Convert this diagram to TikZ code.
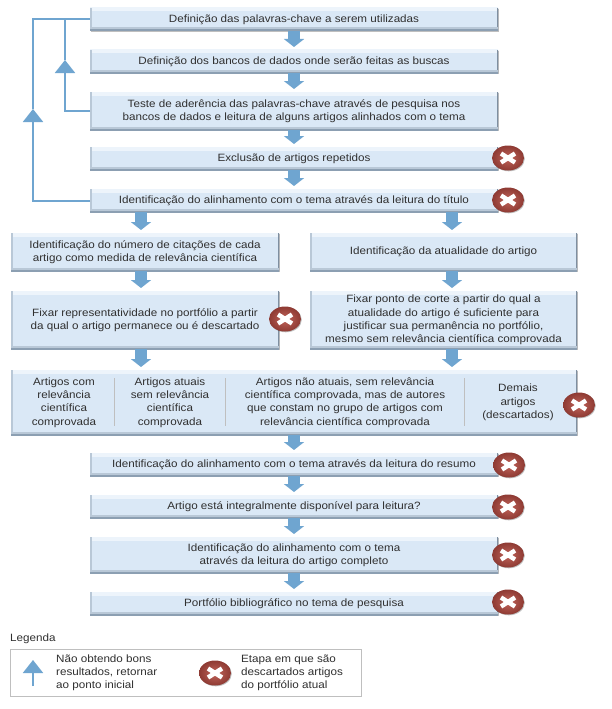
\documentclass[tikz,border=0pt]{standalone}
\usepackage{fontspec}
\setmainfont[FakeStretch=1.1]{Liberation Sans}
\usetikzlibrary{arrows.meta,shapes.geometric,shadows,calc}
\definecolor{boxfill}{HTML}{DAE8F6}
\definecolor{boxlight}{HTML}{EDF4FB}
\definecolor{boxmid}{HTML}{B9C8D7}
\definecolor{boxdark}{HTML}{8C9FB2}
\definecolor{boxdarkr}{HTML}{7E8FA1}
\definecolor{flow}{HTML}{6FA5D0}
\definecolor{txt}{HTML}{303030}
\definecolor{xin}{HTML}{C0645A}
\definecolor{xout}{HTML}{8E3A33}
\tikzset{
  x=1pt,y=-1pt,
  boxnode/.style={rectangle,inner sep=0pt,outer sep=0pt,fill=boxfill,text=txt,align=center,
    font=\fontsize{10.6}{13.3}\selectfont,
    drop shadow={shadow xshift=1pt,shadow yshift=-1pt,opacity=.25,fill=black},
    path picture={
      \draw[boxlight,line width=7pt] (path picture bounding box.north west) -- (path picture bounding box.north east);
      \draw[boxmid,line width=4pt] (path picture bounding box.north west) -- (path picture bounding box.south west);
      \draw[boxdarkr,line width=3pt] (path picture bounding box.north east) -- (path picture bounding box.south east);
      \draw[boxmid,line width=7pt] (path picture bounding box.south west) -- (path picture bounding box.south east);
      \draw[boxdark,line width=3pt] (path picture bounding box.south west) -- (path picture bounding box.south east);
    }},
  plain/.style={inner sep=0pt,text=txt,align=center,font=\fontsize{10.6}{13.3}\selectfont},
  legendtext/.style={inner sep=0pt,text=txt,align=left,anchor=west,font=\fontsize{10.6}{13}\selectfont},
  blockflow/.style={draw=flow,line width=12pt,shorten >=3pt,
    -{Triangle[width=20pt,length=8pt,fill=flow]}},
  backflow/.style={draw=flow,line width=2pt},
  backtip/.style={backflow,-{Triangle[width=20pt,length=13pt,fill=flow]}},
  xmark/.style={ellipse,minimum width=32pt,minimum height=25pt,inner sep=0pt,
    inner color=xin,outer color=xout,
    drop shadow={shadow xshift=.8pt,shadow yshift=-.8pt,opacity=.25,fill=black},
    path picture={
      \draw[white,line width=4.5pt] ($(path picture bounding box.center)+(-7pt,-4.5pt)$) -- ($(path picture bounding box.center)+(7pt,4.5pt)$);
      \draw[white,line width=4.5pt] ($(path picture bounding box.center)+(-7pt,4.5pt)$) -- ($(path picture bounding box.center)+(7pt,-4.5pt)$);
    }},
  divider/.style={draw=black!25,line width=1pt}
}
\begin{document}
\begin{tikzpicture}
\path[use as bounding box,fill=white] (0,0) rectangle (611,709);
% main boxes
\node[boxnode,minimum width=408pt,minimum height=23pt] (b1) at (294,19.5) {Definição das palavras-chave a serem utilizadas};
\node[boxnode,minimum width=408pt,minimum height=23pt] (b2) at (294,61.5) {Definição dos bancos de dados onde serão feitas as buscas};
\node[boxnode,minimum width=408pt,minimum height=38pt] (b3) at (294,111) {Teste de aderência das palavras-chave através de pesquisa nos\\bancos de dados e leitura de alguns artigos alinhados com o tema};
\node[boxnode,minimum width=408pt,minimum height=23pt] (b4) at (294,158.5) {Exclusão de artigos repetidos};
\node[boxnode,minimum width=408pt,minimum height=23pt] (b5) at (294,200.5) {Identificação do alinhamento com o tema através da leitura do título};
\node[boxnode,minimum width=268pt,minimum height=38pt] (l6) at (145,252) {Identificação do número de citações de cada\\artigo como medida de relevância científica};
\node[boxnode,minimum width=267pt,minimum height=38pt] (r6) at (443.5,252) {Identificação da atualidade do artigo};
\node[boxnode,minimum width=268pt,minimum height=58pt] (l7) at (145,320) {Fixar representatividade no portfólio a partir\\da qual o artigo permanece ou é descartado};
\node[boxnode,minimum width=267pt,minimum height=58pt] (r7) at (443.5,320) {Fixar ponto de corte a partir do qual a\\atualidade do artigo é suficiente para\\justificar sua permanência no portfólio,\\mesmo sem relevância científica comprovada};
\node[boxnode,minimum width=566pt,minimum height=65pt] (b8) at (294,402.5) {};
\node[plain] (c1) at (64,402.5) {Artigos com\\relevância\\científica\\comprovada};
\node[plain] (c2) at (170,402.5) {Artigos atuais\\sem relevância\\científica\\comprovada};
\node[plain] (c3) at (345,402.5) {Artigos não atuais, sem relevância\\científica comprovada, mas de autores\\que constam no grupo de artigos com\\relevância científica comprovada};
\node[plain] (c4) at (518,402.5) {Demais\\artigos\\(descartados)};
\node[boxnode,minimum width=408pt,minimum height=23pt] (b9) at (294,464.5) {Identificação do alinhamento com o tema através da leitura do resumo};
\node[boxnode,minimum width=408pt,minimum height=23pt] (b10) at (294,506.5) {Artigo está integralmente disponível para leitura?};
\node[boxnode,minimum width=408pt,minimum height=36pt] (b11) at (294,555) {Identificação do alinhamento com o tema\\através da leitura do artigo completo};
\node[boxnode,minimum width=408pt,minimum height=23pt] (b12) at (294,603.5) {Portfólio bibliográfico no tema de pesquisa};
% dividers in the grouped box
\coordinate (d1a) at (114,378); \coordinate (d1b) at (114,426);
\coordinate (d2a) at (225,378); \coordinate (d2b) at (225,426);
\coordinate (d3a) at (464,378); \coordinate (d3b) at (464,426);
\draw[divider] (d1a) -- (d1b);
\draw[divider] (d2a) -- (d2b);
\draw[divider] (d3a) -- (d3b);
% block connectors
\draw[blockflow] (b1.south) -- (b2.north);
\draw[blockflow] (b2.south) -- (b3.north);
\draw[blockflow] (b3.south) -- (b4.north);
\draw[blockflow] (b4.south) -- (b5.north);
\coordinate (s5l) at (141,212); \coordinate (s5r) at (452,212);
\draw[blockflow] (s5l) -- (s5l |- l6.north);
\draw[blockflow] (s5r) -- (s5r |- r6.north);
\coordinate (s6l) at (141,271); \coordinate (s6r) at (452,271);
\draw[blockflow] (s6l) -- (s6l |- l7.north);
\draw[blockflow] (s6r) -- (s6r |- r7.north);
\coordinate (s7l) at (141,349); \coordinate (s7r) at (452,349);
\draw[blockflow] (s7l) -- (s7l |- b8.north);
\draw[blockflow] (s7r) -- (s7r |- b8.north);
\draw[blockflow] (b8.south) -- (b9.north);
\draw[blockflow] (b9.south) -- (b10.north);
\draw[blockflow] (b10.south) -- (b11.north);
\draw[blockflow] (b11.south) -- (b12.north);
% return lines
\coordinate (ra) at (33,109); \coordinate (rt) at (33,19.5);
\coordinate (qa) at (65,60); \coordinate (qt) at (65,19.5);
\draw[backtip] (b5.west) -| (ra);
\draw[backflow] (ra) -- (rt) -- (b1.west);
\draw[backtip] (b3.west) -| (qa);
\draw[backflow] (qa) -- (qt);
% discard marks
\node[xmark] (x4) at (508,158) {};
\node[xmark] (x5) at (508,200) {};
\node[xmark] (x7) at (285,319) {};
\node[xmark] (x8) at (579,405) {};
\node[xmark] (x9) at (509,465) {};
\node[xmark] (x10) at (508,507) {};
\node[xmark] (x11) at (508,555) {};
\node[xmark] (x12) at (508,602) {};
% legend
\node[legendtext] (lt) at (10,639) {Legenda};
\node[rectangle,draw=black!25,line width=1pt,minimum width=351pt,minimum height=47pt,inner sep=0pt] (lb) at (185.5,673) {};
\coordinate (la) at (33,686); \coordinate (lh) at (33,660);
\draw[backtip] (la) -- (lh);
\node[legendtext] (l1) at (56,673) {Não obtendo bons\\resultados, retornar\\ao ponto inicial};
\node[xmark] (lx) at (215,673) {};
\node[legendtext] (l2) at (241,673) {Etapa em que são\\descartados artigos\\do portfólio atual};
\end{tikzpicture}
\end{document}
